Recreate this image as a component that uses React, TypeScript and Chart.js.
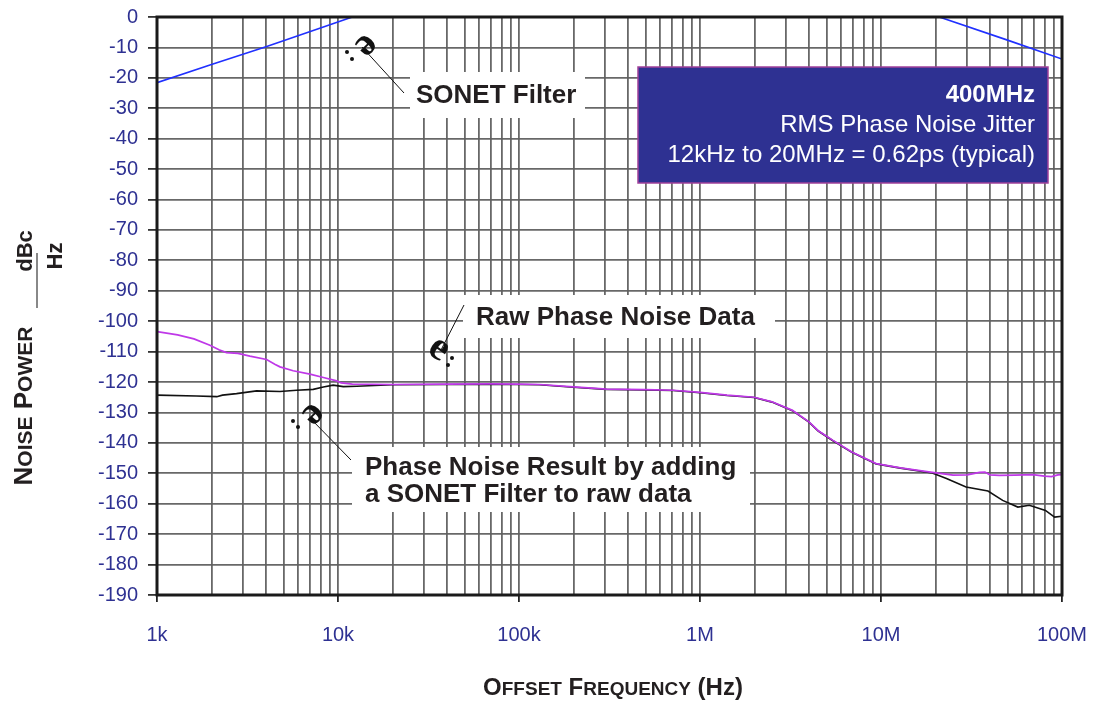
import React, { useEffect, useRef } from 'react';
import { Chart, registerables } from 'chart.js';

Chart.register(...registerables);

// ---- Data ----
const rawFreq = [1000, 1300, 1600, 1960, 2200, 2420, 2800, 3260, 4030, 4500, 4780, 5650, 7000, 8300, 9830, 10400, 12000, 20000, 40000, 70000, 100000, 130000, 200000, 304000, 500000, 710000, 1000000, 1410000, 1990000, 2500000, 3240000, 4000000, 4500000, 5400000, 6900000, 9400000, 12800000, 19200000, 25000000, 30000000, 35000000, 37500000, 40000000, 45000000, 55000000, 69000000, 80000000, 87500000, 95000000, 100000000];
const rawNoise = [-103.4, -104.5, -105.8, -107.9, -109.4, -110.3, -110.6, -111.5, -112.6, -114.2, -115.0, -116.3, -117.4, -118.5, -119.6, -120.3, -120.7, -120.8, -120.7, -120.6, -120.7, -120.8, -121.6, -122.3, -122.5, -122.7, -123.4, -124.3, -125.0, -126.5, -129.3, -133.1, -136.0, -139.1, -143.0, -146.8, -148.2, -149.7, -150.6, -150.5, -149.7, -149.6, -150.5, -150.7, -150.6, -150.4, -150.9, -151.1, -150.5, -150.4];

const filtFreq = [1000, 1650, 2140, 2300, 2750, 3550, 4780, 5900, 7300, 8300, 9400, 10700, 12700, 20000, 40000, 100000, 130000, 200000, 304000, 500000, 710000, 1000000, 1410000, 1990000, 2500000, 3240000, 4000000, 4500000, 5400000, 6900000, 9400000, 12800000, 19200000, 23000000, 29500000, 39000000, 47000000, 57000000, 66000000, 81000000, 91000000, 100000000];
const filtNoise = [-124.3, -124.6, -124.8, -124.3, -123.8, -122.9, -123.1, -122.7, -122.4, -121.6, -121.0, -121.5, -121.4, -120.9, -120.8, -120.8, -120.9, -121.7, -122.4, -122.6, -122.8, -123.5, -124.4, -125.1, -126.6, -129.4, -133.2, -136.1, -139.2, -143.1, -146.9, -148.3, -149.9, -151.7, -154.5, -155.8, -158.9, -161.1, -160.5, -162.2, -164.4, -164.1];

const sonetFreq = [1000, 2000, 4000, 8000, 12000, 21000000, 50000000, 100000000];
const sonetGain = [-21.6, -15.6, -9.8, -3.6, 0, 0, -7.6, -13.8];

const yTickValues = [0, -10, -20, -30, -40, -50, -60, -70, -80, -90, -100, -110, -120, -130, -140, -150, -160, -170, -180, -190];
const xDecades = [1e3, 1e4, 1e5, 1e6, 1e7, 1e8];
const xDecadeLabels = ['1k', '10k', '100k', '1M', '10M', '100M'];
const xMantissas = [1, 2, 3, 4, 5, 6, 7, 8, 9];

const infoLines = ['400MHz', 'RMS Phase Noise Jitter', '12kHz to 20MHz = 0.62ps (typical)'];
const sonetLabel = 'SONET Filter';
const rawLabel = 'Raw Phase Noise Data';
const resultLabel = ['Phase Noise Result by adding', 'a SONET Filter to raw data'];
const xTitleParts: [string, boolean][] = [['O', true], ['FFSET', false], [' F', true], ['REQUENCY', false], [' (Hz)', true]];
const yTitleParts: [string, boolean][] = [['N', true], ['OISE', false], [' P', true], ['OWER', false]];

const FONT = '"Liberation Sans", Arial, Helvetica, sans-serif';
const NAVY = '#2e3192';
const GRID = 'rgba(96,96,96,0.95)';

function buildXTicks() {
  const out: number[] = [];
  for (let i = 0; i < xDecades.length; i++) {
    for (const m of xMantissas) {
      const v = xDecades[i] * m;
      if (v <= 1e8) out.push(v);
    }
  }
  return out;
}

function drawSmallCaps(ctx: CanvasRenderingContext2D, parts: [string, boolean][], cx: number, cy: number, big: number, small: number, rotate: boolean) {
  ctx.save();
  ctx.translate(cx, cy);
  if (rotate) ctx.rotate(-Math.PI / 2);
  let total = 0;
  const widths: number[] = [];
  for (const [t, b] of parts) {
    ctx.font = `bold ${b ? big : small}px ${FONT}`;
    const w = ctx.measureText(t).width;
    widths.push(w);
    total += w;
  }
  let x = -total / 2;
  ctx.textBaseline = 'alphabetic';
  ctx.textAlign = 'left';
  ctx.fillStyle = '#231f20';
  const capH = big * 0.716;
  parts.forEach(([t, b], i) => {
    ctx.font = `bold ${b ? big : small}px ${FONT}`;
    ctx.fillText(t, x, capH / 2);
    x += widths[i];
  });
  ctx.restore();
}

function drawGlyph(ctx: CanvasRenderingContext2D, x: number, y: number, angle: number, dots: [number, number][]) {
  ctx.save();
  ctx.translate(x, y);
  ctx.rotate(angle);
  ctx.font = `bold 40px "Liberation Serif", serif`;
  ctx.fillStyle = '#111';
  ctx.textAlign = 'center';
  ctx.textBaseline = 'middle';
  ctx.fillText('e', 0, -4);
  ctx.restore();
  ctx.fillStyle = '#111';
  for (const [dx, dy] of dots) {
    ctx.beginPath();
    ctx.arc(dx, dy, 2, 0, Math.PI * 2);
    ctx.fill();
  }
}

const decorPlugin = {
  id: 'decor',
  afterDatasetsDraw(chart: any) {
    const ctx: CanvasRenderingContext2D = chart.ctx;
    const a = chart.chartArea;
    ctx.save();

    // frame
    ctx.strokeStyle = '#1a1a1a';
    ctx.lineWidth = 3;
    ctx.strokeRect(a.left, a.top, a.right - a.left, a.bottom - a.top);

    // info box
    ctx.fillStyle = NAVY;
    ctx.fillRect(638, 67, 410, 116);
    ctx.strokeStyle = '#a0409a';
    ctx.lineWidth = 1.5;
    ctx.strokeRect(638, 67, 410, 116);
    ctx.fillStyle = '#ffffff';
    ctx.textAlign = 'right';
    ctx.textBaseline = 'alphabetic';
    ctx.font = `bold 24px ${FONT}`;
    ctx.fillText(infoLines[0], 1035, 102);
    ctx.font = `24px ${FONT}`;
    ctx.fillText(infoLines[1], 1035, 132);
    ctx.fillText(infoLines[2], 1035, 162);

    // white label boxes
    ctx.fillStyle = '#ffffff';
    ctx.fillRect(410, 72, 175, 46);
    ctx.fillRect(463, 295, 312, 43);
    ctx.fillRect(352, 447, 398, 65);

    ctx.fillStyle = '#231f20';
    ctx.textAlign = 'left';
    ctx.font = `bold 26px ${FONT}`;
    ctx.fillText(sonetLabel, 416, 103);
    ctx.fillText(rawLabel, 476, 325);
    ctx.fillText(resultLabel[0], 365, 475);
    ctx.fillText(resultLabel[1], 365, 502);

    // leader lines
    ctx.strokeStyle = '#111';
    ctx.lineWidth = 1;
    ctx.beginPath();
    ctx.moveTo(362, 47); ctx.lineTo(404, 93);
    ctx.moveTo(441, 350); ctx.lineTo(464, 305);
    ctx.moveTo(310, 418); ctx.lineTo(351, 460);
    ctx.stroke();

    drawGlyph(ctx, 364, 43, (3 * Math.PI) / 4, [[347, 52], [352, 59]]);
    drawGlyph(ctx, 437, 352, (35 * Math.PI) / 180, [[452, 358], [448, 365]]);
    drawGlyph(ctx, 311, 412, (3 * Math.PI) / 4, [[293, 421], [298, 427]]);

    // axis titles
    drawSmallCaps(ctx, xTitleParts, 613, 686, 24, 19, false);
    drawSmallCaps(ctx, yTitleParts, 23, 406, 26, 21, true);

    // dBc / Hz fraction
    ctx.fillStyle = '#231f20';
    ctx.font = `bold 22px ${FONT}`;
    ctx.textAlign = 'center';
    ctx.textBaseline = 'alphabetic';
    ctx.save();
    ctx.translate(24, 251);
    ctx.rotate(-Math.PI / 2);
    ctx.fillText('dBc', 0, 8);
    ctx.restore();
    ctx.save();
    ctx.translate(54, 256);
    ctx.rotate(-Math.PI / 2);
    ctx.fillText('Hz', 0, 8);
    ctx.restore();
    ctx.strokeStyle = '#888';
    ctx.lineWidth = 2;
    ctx.beginPath();
    ctx.moveTo(37, 253);
    ctx.lineTo(37, 308);
    ctx.stroke();

    ctx.restore();
  },
};

export default function App() {
  const ref = useRef<HTMLCanvasElement>(null);

  useEffect(() => {
    const xTicks = buildXTicks();
    const chart = new Chart(ref.current!, {
      type: 'line',
      data: {
        datasets: [
          {
            label: 'Raw Phase Noise Data',
            data: rawFreq.map((f, i) => ({ x: f, y: rawNoise[i] })),
            borderColor: '#bf38e8',
            borderWidth: 1.7,
            pointRadius: 0,
            fill: false,
            tension: 0,
          },
          {
            label: 'Phase Noise Result',
            data: filtFreq.map((f, i) => ({ x: f, y: filtNoise[i] })),
            borderColor: '#111111',
            borderWidth: 1.6,
            pointRadius: 0,
            fill: false,
            tension: 0,
          },
          {
            label: 'SONET Filter',
            data: sonetFreq.map((f, i) => ({ x: f, y: sonetGain[i] })),
            borderColor: '#2030ff',
            borderWidth: 1.6,
            pointRadius: 0,
            fill: false,
            tension: 0,
          },
        ],
      },
      options: {
        responsive: false,
        animation: false,
        events: [],
        layout: { padding: { left: 0, top: 17, right: 31, bottom: 0 } },
        plugins: { legend: { display: false }, tooltip: { enabled: false }, title: { display: false } },
        scales: {
          x: {
            type: 'logarithmic',
            min: 1e3,
            max: 1e8,
            afterBuildTicks: (scale: any) => {
              scale.ticks = xTicks.map((v) => ({ value: v }));
            },
            afterFit: (scale: any) => {
              scale.height = 108;
              scale.paddingLeft = 0;
              scale.paddingRight = 0;
            },
            border: { display: false },
            grid: {
              color: GRID,
              lineWidth: 1.8,
              tickLength: 7,
              tickColor: (c: any) => (c.tick && xDecades.includes(c.tick.value) ? '#222' : 'rgba(0,0,0,0)'),
            },
            ticks: {
              autoSkip: false,
              maxRotation: 0,
              padding: 21,
              color: NAVY,
              font: { family: FONT, size: 20 },
              callback: (value: any) => {
                const idx = xDecades.indexOf(Number(value));
                return idx >= 0 ? xDecadeLabels[idx] : '';
              },
            },
          },
          y: {
            type: 'linear',
            min: -190,
            max: 0,
            afterBuildTicks: (scale: any) => {
              scale.ticks = yTickValues.map((v) => ({ value: v }));
            },
            afterFit: (scale: any) => {
              scale.width = 157;
              scale.paddingTop = 0;
              scale.paddingBottom = 0;
            },
            border: { display: false },
            grid: {
              color: GRID,
              lineWidth: 1.8,
              tickLength: 9,
              tickColor: '#333',
            },
            ticks: {
              padding: 10,
              color: NAVY,
              font: { family: FONT, size: 20 },
              callback: (value: any) => String(value),
            },
          },
        },
      },
      plugins: [decorPlugin],
    } as any);
    return () => chart.destroy();
  }, []);

  return (
    <div style={{ position: 'fixed', left: 0, top: 0, width: 1093, height: 703, background: '#ffffff' }}>
      <canvas ref={ref} width={1093} height={703} style={{ display: 'block' }} />
    </div>
  );
}
